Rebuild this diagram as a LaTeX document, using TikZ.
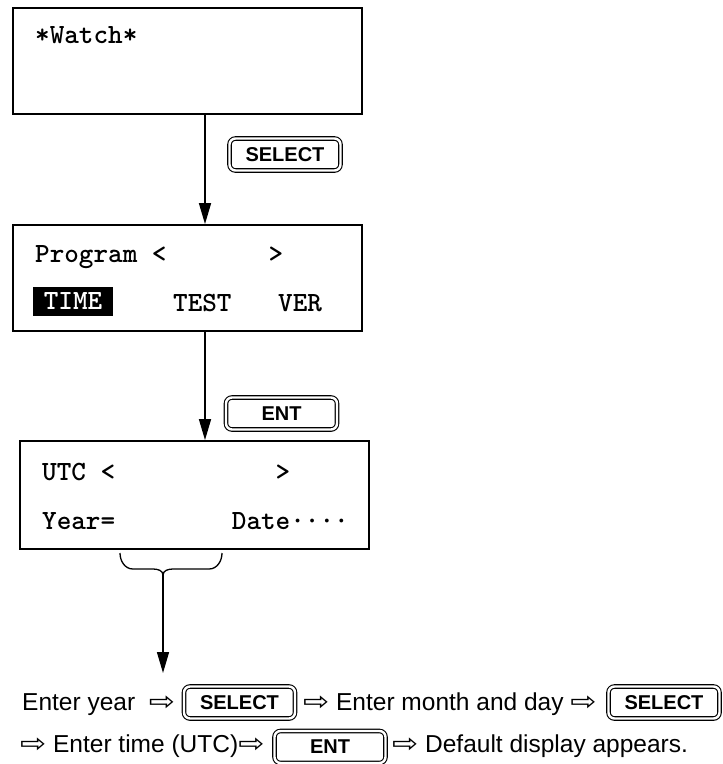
\documentclass[tikz,border=0pt]{standalone}
\usepackage{fontspec}
\usepackage{graphicx}
\setmainfont{Liberation Sans}
\newfontfamily\arrowfont{DejaVu Sans}
\usetikzlibrary{arrows.meta,positioning,calc}
\newcommand{\Then}{{\arrowfont\fontsize{26}{30}\selectfont\scalebox{1.2}[1]{⇨}}}

\begin{document}
\begin{tikzpicture}[
  x=1pt,y=-1pt,
  lcd/.style={draw,line width=1.8pt,minimum width=349pt,minimum height=106pt,inner sep=0pt},
  mono/.style={font=\ttfamily\bfseries\fontsize{27.8}{30}\selectfont,anchor=base west,inner sep=0pt},
  key/.style={draw,line width=1.1pt,double,double distance=2.4pt,rounded corners=6pt,
              minimum width=111pt,minimum height=32pt,inner sep=0pt,
              font=\bfseries\fontsize{20}{24}\selectfont},
  txt/.style={font=\fontsize{24.5}{30}\selectfont,anchor=base west,inner sep=0pt},
  arr/.style={line width=1.5pt,-{Triangle[length=21pt,width=12pt]}}
]
\useasboundingbox (0,0) rectangle (723,764);
% displays
\node[lcd] (watch) at (187.5,61) {};
\node[lcd] (prog) at (187.5,278) {};
\node[lcd,minimum height=108pt] (utc) at (194.5,495) {};
\node[mono] (wtxt) at (35,43) {*Watch*};
\node[mono] (ptxt) at (35,262) {Program~<~~~~~~~>};
\node[mono,anchor=center,fill=black,text=white,minimum width=80pt,minimum height=29pt] (time) at (73,301.5) {TIME};
\node[mono] (test) at (173,311) {TEST};
\node[mono] (ver) at (278,311) {VER};
\node[mono] (utxt) at (42,480) {UTC~<~~~~~~~~~~~>};
\node[mono] (year) at (42,529) {Year=~~~~~~~~Date····};
% keys between displays
\node[key] (sel) at (285,154.5) {SELECT};
\node[key] (ent) at (281.5,413.5) {ENT};
\draw[arr] ([xshift=17.5pt]watch.south) -- ([xshift=17.5pt]prog.north);
\draw[arr] ([xshift=17.5pt]prog.south) -- ([xshift=10.5pt]utc.north);
% brace under Year=
\coordinate (brL) at (120,553);
\coordinate (brR) at (222,553);
\coordinate (brT) at (163,575);
\coordinate (yearin) at (163,673);
\draw[line width=1.3pt] (brL) to[out=-90,in=180] (133,569) -- (153,569)
  to[out=0,in=90] (brT) to[out=90,in=180] (173,569) -- (209,569) to[out=0,in=-90] (brR);
\draw[arr] (brT) -- (yearin);
% procedure
\node[txt] (t1) at (22,710) {Enter year \ \Then};
\node[key] (k1) at (239.5,702.5) {SELECT};
\node[txt] (t2) at (303,710) {\Then\ Enter month and day \Then};
\node[key] (k2) at (664,702.5) {SELECT};
\node[txt] (t3) at (20,752) {\Then\ Enter time (UTC)\Then};
\node[key] (k3) at (330,747) {ENT};
\node[txt] (t4) at (392,752) {\Then\ Default display appears.};
\end{tikzpicture}
\end{document}
